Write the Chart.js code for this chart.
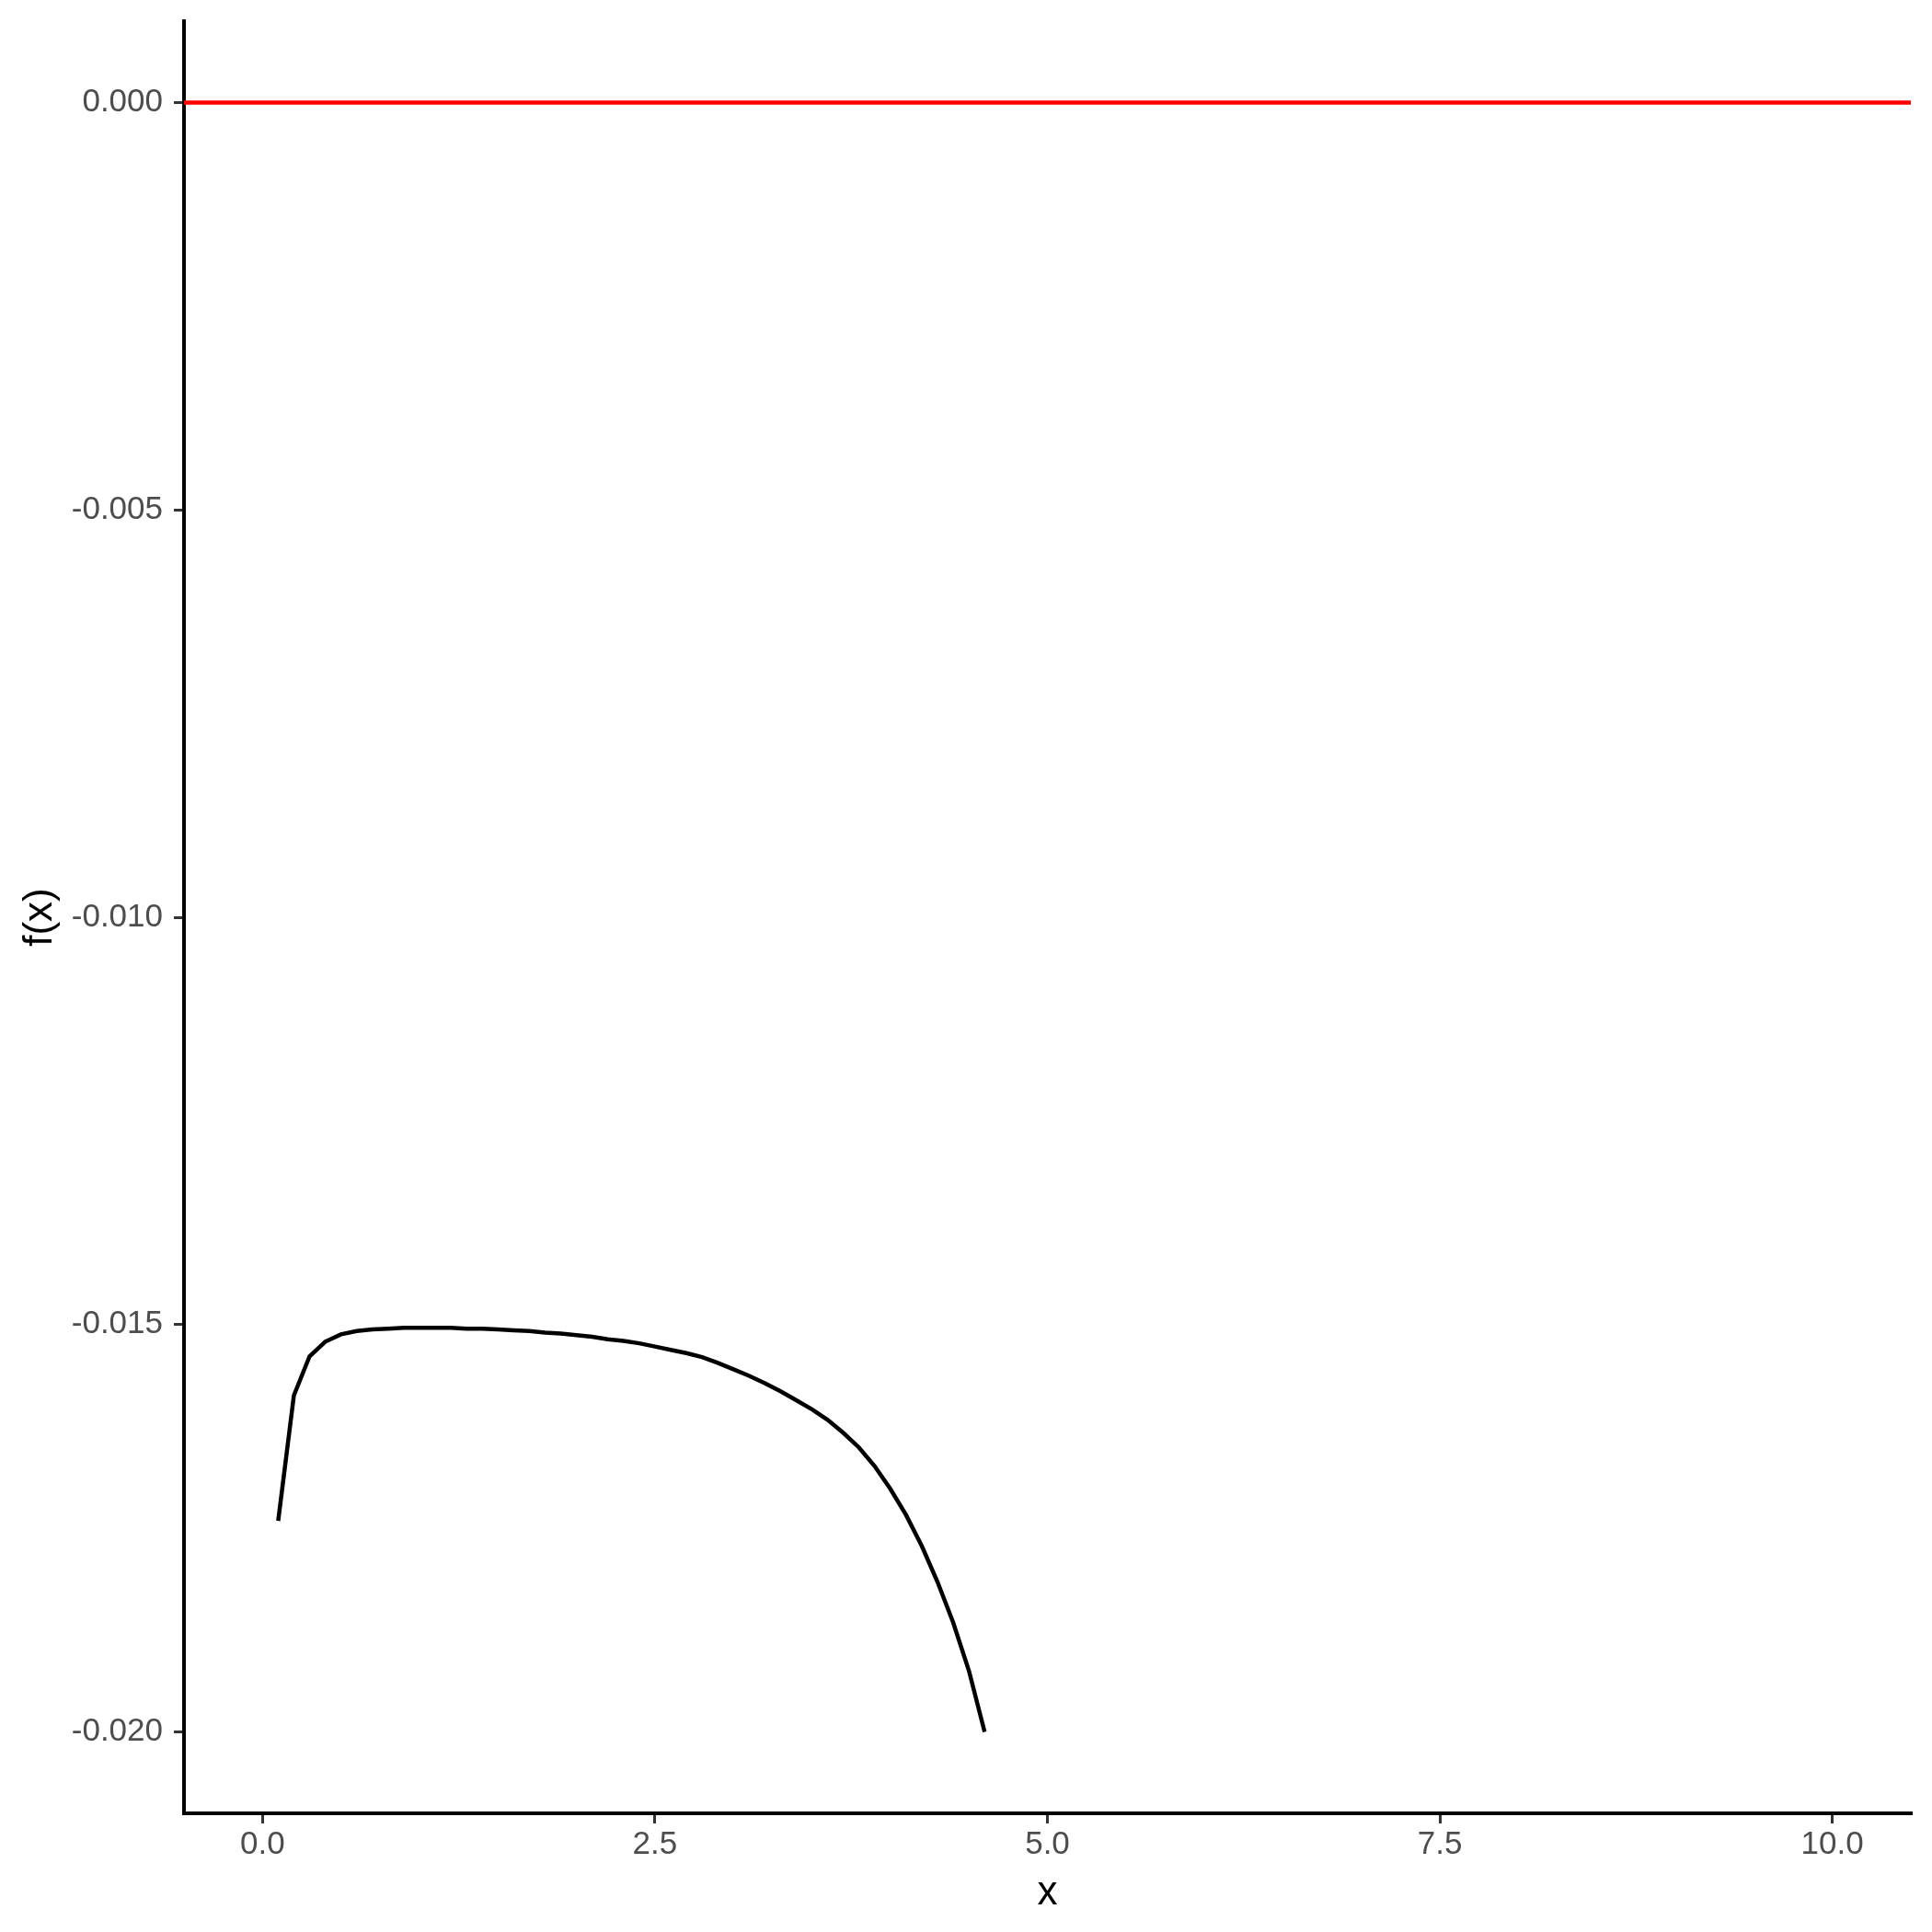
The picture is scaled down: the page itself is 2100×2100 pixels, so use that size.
<!DOCTYPE html>
<html>
<head>
<meta charset="utf-8">
<script src="https://cdn.jsdelivr.net/npm/chart.js@4"></script>
<style>
  body { margin: 0; background: #ffffff; }
  canvas { display: block; }
</style>
</head>
<body>
<canvas id="chart" width="2100" height="2100"></canvas>
<script>
// values
let xValues = [0.1, 0.2, 0.3, 0.4, 0.5, 0.6, 0.7, 0.8, 0.9, 1.0,
               1.1, 1.2, 1.3, 1.4, 1.5, 1.6, 1.7, 1.8, 1.9, 2.0,
               2.1, 2.2, 2.3, 2.4, 2.5, 2.6, 2.7, 2.8, 2.9, 3.0,
               3.1, 3.2, 3.3, 3.4, 3.5, 3.6, 3.7, 3.8, 3.9, 4.0,
               4.1, 4.2, 4.3, 4.4, 4.5, 4.6];
let fValues = [-0.01741, -0.01587, -0.01539, -0.01521, -0.01512, -0.01508, -0.01506, -0.01505, -0.01504, -0.01504,
               -0.01504, -0.01504, -0.01505, -0.01505, -0.01506, -0.01507, -0.01508, -0.01510, -0.01511, -0.01513,
               -0.01515, -0.01518, -0.01520, -0.01523, -0.01527, -0.01531, -0.01535, -0.01540, -0.01547, -0.01555,
               -0.01563, -0.01572, -0.01582, -0.01593, -0.01604, -0.01617, -0.01633, -0.01651, -0.01674, -0.01702,
               -0.01734, -0.01772, -0.01816, -0.01866, -0.01925, -0.02000];
let hlineY = 0;
let xTicks = [0, 2.5, 5, 7.5, 10];
let yTicks = [0, -0.005, -0.010, -0.015, -0.020];
let xLimits = [-0.5, 10.5];
let yLimits = [-0.021, 0.001];

let curve = [];
for (let i = 0; i < xValues.length; i++) {
    curve.push({x: xValues[i], y: fValues[i]});
}
let hline = [{x: xLimits[0], y: hlineY}, {x: xLimits[1], y: hlineY}];

let fontFamily = "'Liberation Sans', Arial, sans-serif";

var chart = new Chart(document.getElementById("chart"), {
    type: 'scatter',
    data: {
        datasets: [
            {
                data: curve,
                showLine: true,
                borderColor: '#000000',
                borderWidth: 4.5,
                pointRadius: 0,
                tension: 0
            },
            {
                data: hline,
                showLine: true,
                borderColor: '#ff0000',
                borderWidth: 4.5,
                pointRadius: 0
            }
        ]
    },
    options: {
        responsive: false,
        animation: false,
        devicePixelRatio: 1,
        layout: {
            padding: {top: 23, right: 23, bottom: 0, left: 0}
        },
        plugins: {
            legend: {display: false},
            tooltip: {enabled: false}
        },
        scales: {
            x: {
                type: 'linear',
                min: xLimits[0],
                max: xLimits[1],
                afterBuildTicks: function(scale) {
                    scale.ticks = xTicks.map(v => ({value: v}));
                },
                afterFit: function(scale) {
                    scale.height = 129;
                    scale.paddingLeft = 0;
                    scale.paddingRight = 0;
                },
                grid: {
                    display: true,
                    drawOnChartArea: false,
                    drawTicks: true,
                    tickLength: 11,
                    color: '#333333',
                    lineWidth: 3
                },
                border: {display: true, color: '#000000', width: 4},
                ticks: {
                    padding: 2,
                    color: '#4d4d4d',
                    font: {family: fontFamily, size: 35},
                    maxRotation: 0,
                    callback: function(v) { return v.toFixed(1); }
                },
                title: {
                    display: true,
                    text: 'x',
                    color: '#000000',
                    font: {family: fontFamily, size: 44},
                    padding: {top: 0, bottom: 16}
                }
            },
            y: {
                type: 'linear',
                min: yLimits[0],
                max: yLimits[1],
                afterBuildTicks: function(scale) {
                    scale.ticks = yTicks.map(v => ({value: v}));
                },
                afterFit: function(scale) {
                    scale.width = 200;
                    scale.paddingTop = 0;
                    scale.paddingBottom = 0;
                },
                grid: {
                    display: true,
                    drawOnChartArea: false,
                    drawTicks: true,
                    tickLength: 11,
                    color: '#333333',
                    lineWidth: 3
                },
                border: {display: true, color: '#000000', width: 4},
                ticks: {
                    padding: 12,
                    color: '#4d4d4d',
                    font: {family: fontFamily, size: 35},
                    callback: function(v) { return v.toFixed(3); }
                },
                title: {
                    display: true,
                    text: 'f(x)',
                    color: '#000000',
                    font: {family: fontFamily, size: 44},
                    padding: {top: 17, bottom: 0}
                }
            }
        }
    }
});
</script>
</body>
</html>
